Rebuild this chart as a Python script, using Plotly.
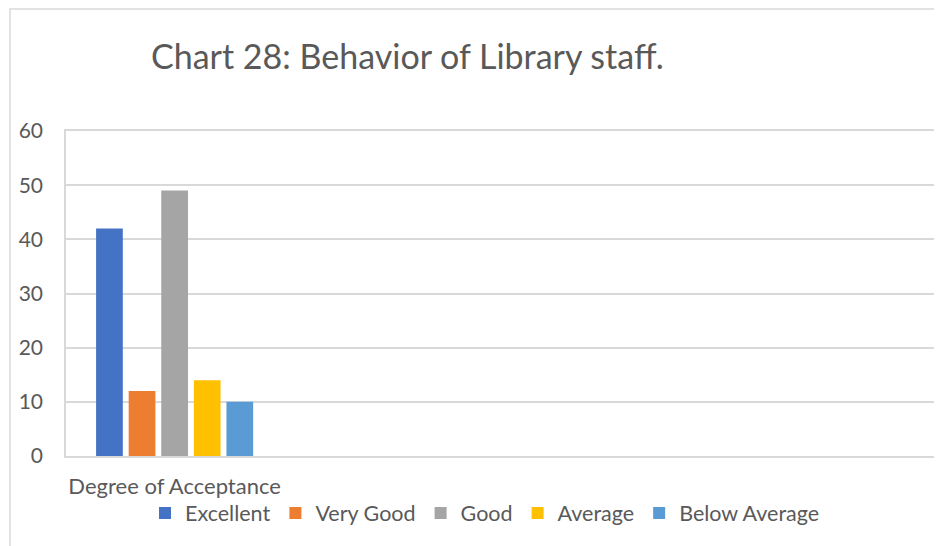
import plotly.graph_objects as go

categories = ["Degree of Acceptance", " ", "  ", "   "]
series_names = ["Excellent", "Very Good", "Good", "Average", "Below Average"]
series_values = [42, 12, 49, 14, 10]
series_colors = ["#4472C4", "#ED7D31", "#A5A5A5", "#FFC000", "#5B9BD5"]
y_ticks = [0, 10, 20, 30, 40, 50, 60]

OFF = 8  # default page body margin
W, H = 942 - OFF, 546 - OFF
L, T = 66 - OFF, 131 - OFF
R = W - (935 - OFF)
B = H - (456 - OFF)
pw, ph = W - L - R, H - T - B

def px(x):
    return (x - OFF - L) / pw

def py(y):
    return (H - B - (y - OFF)) / ph

FONT = "Lato, 'Open Sans', sans-serif"
TXT = "#595959"

fig = go.Figure()
for name, val, col in zip(series_names, series_values, series_colors):
    fig.add_trace(go.Bar(
        x=[categories[0]], y=[val], name=name,
        marker=dict(color=col, line=dict(width=0)),
    ))

fig.update_layout(
    width=W, height=H,
    margin=dict(l=L, r=R, t=T, b=B, autoexpand=False),
    paper_bgcolor="white", plot_bgcolor="white",
    barmode="group", bargap=0.25, bargroupgap=0.18,
    font=dict(family=FONT, color=TXT, size=21),
    showlegend=True,
    legend=dict(orientation="h", x=px(485), xanchor="center",
                y=py(513), yanchor="middle", bgcolor="rgba(0,0,0,0)",
                font=dict(size=21.5, color=TXT), tracegroupgap=0,
                itemwidth=30, traceorder="normal", itemsizing="constant"),
    xaxis=dict(type="category", categoryorder="array", categoryarray=categories,
               range=[-0.5, len(categories) - 0.5],
               showline=True, linecolor="#D9D9D9", linewidth=1.5, mirror=True,
               showgrid=False, ticks="", ticklabelstandoff=10,
               tickfont=dict(size=22, color=TXT), fixedrange=True),
    yaxis=dict(range=[0, 60], tickvals=y_ticks, showgrid=True, gridcolor="#D9D9D9",
               gridwidth=1.5, showline=True, linecolor="#D9D9D9", linewidth=1.5,
               mirror=True, ticks="", ticklabelstandoff=17, zeroline=False,
               tickfont=dict(size=21, color=TXT), fixedrange=True),
    annotations=[dict(text="Chart 28: Behavior of Library staff.", xref="paper", yref="paper",
                      x=px(407), y=py(55), xanchor="center", yanchor="middle",
                      showarrow=False, font=dict(size=34, color=TXT, family=FONT))],
    shapes=[dict(type="rect", xref="paper", yref="paper",
                 x0=px(10), x1=px(960), y0=py(570), y1=py(9),
                 line=dict(color="#D9D9D9", width=1.5), layer="below")],
)

fig.write_html("out.html")
